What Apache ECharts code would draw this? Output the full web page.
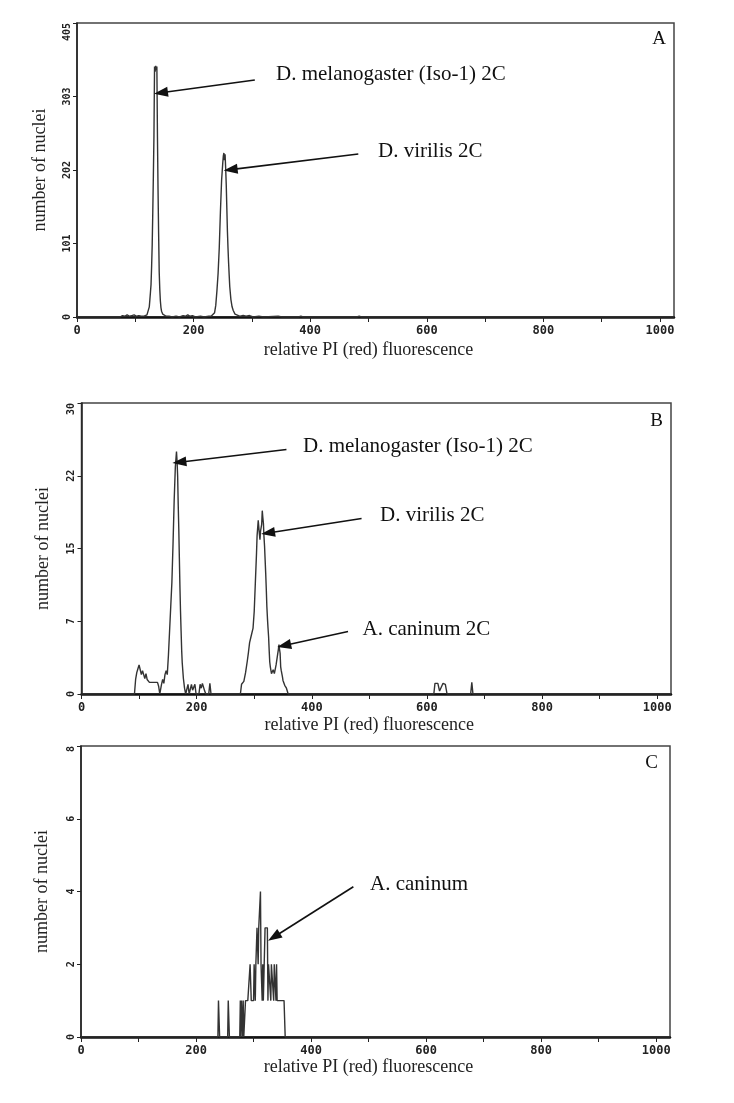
<!DOCTYPE html>
<html>
<head>
<meta charset="utf-8">
<script src="https://cdn.jsdelivr.net/npm/echarts@6/dist/echarts.min.js"></script>
<style>
html,body{margin:0;padding:0;background:#fff;}
#chart{width:734px;height:1103px;}
</style>
</head>
<body>
<div id="chart"></div>
<script>
// ---------- data ----------
const xTickValues = [0,100,200,300,400,500,600,700,800,900,1000];
const xLabelValues = [0,200,400,600,800,1000];
const xMax = 1024;

const yTicksA = [0,101.25,202.5,303.75,405];
const yLabelsA = ['0','101','202','303','405'];
const yTicksB = [0,7.5,15,22.5,30];
const yLabelsB = ['0','7','15','22','30'];
const yTicksC = [0,2,4,6,8];
const yLabelsC = ['0','2','4','6','8'];

const xTitle = 'relative PI (red) fluorescence';
const yTitle = 'number of nuclei';
const panelLetters = ['A','B','C'];

// histogram A: [channel, count]
const histA = [[0,0],[74,0],[78,2],[82,1],[86,3],[90,1],[94,2],[98,3],[102,1],[106,2],[110,1],[114,1],[117,2],[120,3],[122,5],[124,14],[125,24],[126,34],[127,45],[128,70],[129,100],[130,145],[131,195],[132,250],[133,345],[134,338],[135,346],[136,340],[137,345],[138,249],[139,175],[140,115],[141,62],[142,38],[143,22],[144,13],[145,8],[147,4],[150,2],[153,1],[158,1],[163,0],[170,1],[176,0],[182,2],[186,1],[190,3],[194,1],[198,2],[203,0],[212,1],[218,0],[226,1],[230,1],[233,2],[236,6],[238,16],[240,36],[242,60],[244,95],[246,145],[248,188],[250,212],[251,222],[252,226],[253,216],[254,224],[255,205],[256,182],[257,150],[258,118],[259,95],[260,75],[261,58],[262,42],[264,24],[266,14],[268,9],[271,4],[274,2],[280,1],[285,2],[290,1],[296,2],[302,0],[312,1],[320,0],[345,1],[352,0],[380,0],[384,1],[388,0],[480,0],[484,1],[488,0],[1024,0]];

// histogram B
const histB = [[0,0],[92,0],[94,1.5],[96,2.2],[98,2.6],[100,3.0],[102,2.5],[104,2.0],[106,2.4],[108,2.0],[110,1.6],[112,2.1],[114,1.5],[116,1.3],[118,1.2],[132,1.2],[134,0.8],[136,0],[138,0],[139,1.0],[141,1.5],[143,1.1],[145,2.0],[147,2.4],[149,2.0],[151,4.0],[153,6.5],[155,9.0],[157,11.5],[159,15.5],[161,20],[163,23.4],[164,24.2],[165,25.0],[166,24.0],[167,22.5],[168,19.5],[169,17],[170,14],[171,11],[172,8.5],[173,6.5],[174,4.5],[175,3.2],[177,1.6],[179,0.6],[181,0],[183,0],[185,1],[187,0],[190,0],[191,1],[193,0.4],[195,0.3],[197,1],[199,0],[204,0],[206,1],[208,0.6],[210,1.1],[212,1.1],[214,0.3],[216,0],[221,0],[223,1.1],[225,0],[276,0],[278,1],[282,1.3],[285,2.2],[288,3.4],[290,4.3],[292,5.3],[294,5.8],[296,6.0],[298,6.8],[300,8.5],[302,11.5],[304,14.5],[305,16.3],[307,17.9],[308,17.8],[309,16.5],[310,15.9],[311,16.8],[312,16.6],[313,17.5],[314,18.9],[315,18.2],[316,17.6],[317,16.2],[318,15.2],[319,13.8],[320,12.4],[321,10.8],[322,9.0],[323,7.8],[324,6.8],[325,5.9],[326,4.5],[327,3.3],[328,2.8],[330,2.1],[331,2.3],[333,2.5],[335,2.1],[337,2.7],[338,3.0],[340,3.8],[342,4.6],[343,5.1],[344,4.6],[345,4.2],[346,2.8],[347,2.4],[349,1.8],[350,1.4],[353,0.9],[356,0.6],[359,0],[612,0],[614,1.1],[619,1.1],[622,0.3],[625,0.2],[628,1.1],[632,1.0],[635,0],[676,0],[678,1.2],[680,0],[1024,0]];

// histogram C
const histC = [[0,0],[238,0],[239,1],[240,1],[241,0],[255,0],[256,1],[257,1],[258,0],[276,0],[277,1],[278,0],[279,1],[280,1],[281,0],[282,1],[283,0],[285,0],[286,1],[287,1],[288,1],[289,1],[290,1],[291,1],[292,1],[293,1],[294,2],[295,2],[296,1],[297,1],[298,1],[299,1],[300,1],[301,2],[302,2],[303,1],[304,2],[305,2],[306,3],[307,3],[308,2],[309,3],[310,3],[311,3],[312,4],[313,2],[314,2],[315,1],[316,2],[317,1],[318,1],[319,1],[320,3],[321,3],[322,3],[323,3],[324,3],[325,1],[326,2],[327,2],[328,2],[329,2],[330,1],[331,2],[332,2],[333,2],[334,2],[335,1],[336,2],[337,2],[338,2],[339,1],[340,2],[341,1],[342,1],[343,1],[344,1],[345,1],[346,1],[347,1],[348,1],[349,1],[350,1],[351,1],[352,1],[353,1],[354,1],[355,0],[1024,0]];

// annotation arrows (tail -> head) in data coordinates, and labels
const arrowsA = [[[305,326.5],[144,309]], [[482.5,224.5],[263.5,203]]];
const arrowsB = [[[356,25.2],[170,23.9]], [[486.5,18.1],[324,16.6]], [[463,6.45],[352,5.0]]];
const arrowsC = [[[473.5,4.13],[335.5,2.75]]];
const labelsA = ['D. melanogaster (Iso-1) 2C','D. virilis 2C'];
const labelsB = ['D. melanogaster (Iso-1) 2C','D. virilis 2C','A. caninum 2C'];
const labelsC = ['A. caninum'];

// ---------- chart ----------
const serif = "'Liberation Serif','Times New Roman',serif";
const mono = "'DejaVu Sans Mono',monospace";

const grids = [
  {left:77, top:23, width:597, height:294},
  {left:81.5, top:403, width:589.5, height:291},
  {left:81, top:746, width:589, height:291}
];
const yTicks = [yTicksA, yTicksB, yTicksC];
const yLabels = [yLabelsA, yLabelsB, yLabelsC];
const hists = [histA, histB, histC];
const arrows = [arrowsA, arrowsB, arrowsC];
const xNameGaps = [24, 22, 21];
const yNameGaps = [27.5, 29.5, 30];

const option = {
  animation: false,
  backgroundColor: '#fff',
  grid: grids.map(g => Object.assign({show:true, borderColor:'#444', borderWidth:1.5, backgroundColor:'transparent', containLabel:false, outerBoundsMode:'none'}, g)),
  xAxis: grids.map((g,i) => ({
    type:'value', gridIndex:i, min:0, max:xMax, interval:100,
    name:xTitle, nameLocation:'middle', nameGap:xNameGaps[i],
    nameTextStyle:{fontFamily:serif, fontSize:18, color:'#222', padding:[0,14,0,0]},
    axisLine:{show:true, onZero:false, lineStyle:{color:'#111', width:2.5}},
    axisTick:{show:true, length:5, lineStyle:{color:'#222', width:1}, customValues:xTickValues},
    axisLabel:{show:true, margin:8, fontFamily:mono, fontSize:12, fontWeight:'bold', color:'#222', customValues:xLabelValues,
      formatter: v => xLabelValues.indexOf(v) >= 0 ? String(v) : ''},
    splitLine:{show:false}
  })),
  yAxis: grids.map((g,i) => ({
    type:'value', gridIndex:i, min:0, max:yTicks[i][4], interval:yTicks[i][1],
    name:yTitle, nameLocation:'middle', nameGap:yNameGaps[i], nameRotate:90,
    nameTextStyle:{fontFamily:serif, fontSize:18, color:'#222'},
    axisLine:{show:true, onZero:false, lineStyle:{color:'#222', width:1.5}},
    axisTick:{show:true, length:4, lineStyle:{color:'#222', width:1}, customValues:yTicks[i]},
    axisLabel:{show:true, rotate:90, margin:5, fontFamily:mono, fontSize:10, fontWeight:'bold', color:'#222',
      customValues:yTicks[i], alignMaxLabel:'right',
      formatter: v => { const k = yTicks[i].indexOf(v); return k >= 0 ? yLabels[i][k] : ''; }},
    splitLine:{show:false}
  })),
  series: hists.map((h,i) => ({
    type:'line', xAxisIndex:i, yAxisIndex:i, data:h, showSymbol:false, symbol:'none',
    lineStyle:{color:'#333', width:1.4}, z:3,
    markLine:{
      silent:true, animation:false,
      symbol:['none','triangle'], symbolSize:[10,14],
      lineStyle:{color:'#111', width:1.6, type:'solid'},
      label:{show:false}, emphasis:{disabled:true},
      data: arrows[i].map(a => [{coord:a[0]},{coord:a[1]}])
    }
  })),
  graphic: [
    {type:'text', x:276, y:74.5, style:{text:labelsA[0], font:'21px '+serif, fill:'#111', align:'left', verticalAlign:'middle'}},
    {type:'text', x:378, y:151, style:{text:labelsA[1], font:'21px '+serif, fill:'#111', align:'left', verticalAlign:'middle'}},
    {type:'text', x:666, y:39.5, style:{text:panelLetters[0], font:'19px '+serif, fill:'#111', align:'right', verticalAlign:'middle'}},
    {type:'text', x:303, y:446.5, style:{text:labelsB[0], font:'21px '+serif, fill:'#111', align:'left', verticalAlign:'middle'}},
    {type:'text', x:380, y:515.5, style:{text:labelsB[1], font:'21px '+serif, fill:'#111', align:'left', verticalAlign:'middle'}},
    {type:'text', x:362.5, y:629.5, style:{text:labelsB[2], font:'21px '+serif, fill:'#111', align:'left', verticalAlign:'middle'}},
    {type:'text', x:663, y:421, style:{text:panelLetters[1], font:'19px '+serif, fill:'#111', align:'right', verticalAlign:'middle'}},
    {type:'text', x:370, y:884.5, style:{text:labelsC[0], font:'21px '+serif, fill:'#111', align:'left', verticalAlign:'middle'}},
    {type:'text', x:658, y:763.5, style:{text:panelLetters[2], font:'19px '+serif, fill:'#111', align:'right', verticalAlign:'middle'}}
  ]
};

const chart = echarts.init(document.getElementById('chart'), null, {renderer:'canvas'});
chart.setOption(option);
</script>
</body>
</html>
